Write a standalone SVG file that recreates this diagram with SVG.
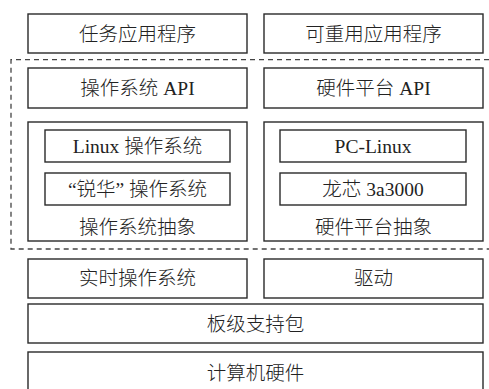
<svg xmlns="http://www.w3.org/2000/svg" width="489" height="389" viewBox="0 0 489 389">
<style>
.b{fill:#fff;stroke:#2a2a2a;stroke-width:1.4}
.t{font-family:"Liberation Serif","Noto Sans CJK SC",serif;font-size:19.5px;font-weight:300;fill:#222;text-anchor:middle;dominant-baseline:central}
.d{fill:none;stroke:#444;stroke-width:1.3;stroke-dasharray:5 4}
</style>
<rect width="489" height="389" fill="#fff"/>
<g id="connectors">
<path class="d" d="M489 59.7H11V249H489"/>
</g>
<g id="task-app"><rect class="b" x="28" y="14" width="219" height="39"/><text class="t" x="137.5" y="34">任务应用程序</text></g>
<g id="reuse-app"><rect class="b" x="264" y="14" width="219" height="39"/><text class="t" x="373.5" y="34">可重用应用程序</text></g>
<g id="os-api"><rect class="b" x="28" y="68" width="219" height="40"/><text class="t" x="137.5" y="88">操作系统 API</text></g>
<g id="hw-api"><rect class="b" x="264" y="68" width="219" height="40"/><text class="t" x="373.5" y="88">硬件平台 API</text></g>
<g id="os-abs"><rect class="b" x="28" y="122" width="219" height="119"/><text class="t" x="137.5" y="227">操作系统抽象</text></g>
<g id="linux-os"><rect class="b" x="45" y="130" width="185" height="32"/><text class="t" x="137.5" y="146">Linux 操作系统</text></g>
<g id="ruihua-os"><rect class="b" x="45" y="173" width="185" height="32"/><text class="t" x="137.5" y="189">“锐华” 操作系统</text></g>
<g id="hw-abs"><rect class="b" x="264" y="122" width="219" height="119"/><text class="t" x="373.5" y="227">硬件平台抽象</text></g>
<g id="pc-linux"><rect class="b" x="280" y="130" width="186" height="32"/><text class="t" x="373" y="146">PC-Linux</text></g>
<g id="loongson"><rect class="b" x="280" y="173" width="186" height="32"/><text class="t" x="373" y="189">龙芯 3a3000</text></g>
<g id="rtos"><rect class="b" x="28" y="259" width="219" height="39"/><text class="t" x="137.5" y="278.5">实时操作系统</text></g>
<g id="driver"><rect class="b" x="264" y="259" width="219" height="39"/><text class="t" x="373.5" y="278.5">驱动</text></g>
<g id="bsp"><rect class="b" x="28" y="304" width="455" height="39"/><text class="t" x="255.5" y="324">板级支持包</text></g>
<g id="hardware"><rect class="b" x="28" y="352" width="455" height="42"/><text class="t" x="255.5" y="373">计算机硬件</text></g>
</svg>
